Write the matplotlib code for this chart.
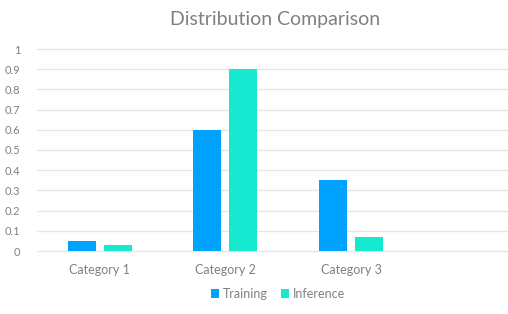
import matplotlib
matplotlib.use("Agg")
import matplotlib.pyplot as plt
import numpy as np

categories = ["Category 1", "Category 2", "Category 3"]
training = [0.05, 0.6, 0.35]
inference = [0.03, 0.9, 0.07]
yticks = [0, 0.1, 0.2, 0.3, 0.4, 0.5, 0.6, 0.7, 0.8, 0.9, 1]
ytick_labels = ["0", "0.1", "0.2", "0.3", "0.4", "0.5", "0.6", "0.7", "0.8", "0.9", "1"]

plt.rcParams['font.family'] = ['Lato', 'DejaVu Sans']
gray = "#808080"

fig = plt.figure(figsize=(5.08, 3.14), dpi=100)
ax = fig.add_axes([37/508, (314-251)/314, 1 - 37/508, (251-49)/314])

x = np.arange(1, len(categories) + 1)
w = 0.223
off = 0.143
ax.bar(x - off, training, w, color="#00A2FF", label="Training", zorder=3)
ax.bar(x + off, inference, w, color="#17E8D0", label="Inference", zorder=3)

ax.set_xlim(0.5, 4.25)
ax.set_ylim(0, 1.0)
ax.set_yticks(yticks)
ax.set_yticklabels(ytick_labels)
ax.set_xticks(x)
ax.set_xticklabels(categories)
for s in ax.spines.values():
    s.set_visible(False)
ax.tick_params(axis='y', length=0, pad=12, labelsize=8, labelcolor=gray)
ax.tick_params(axis='x', length=0, pad=9, labelsize=9, labelcolor=gray)
ax.grid(axis='y', color="#e6e6e6", linewidth=1, zorder=0)
for gl in ax.get_ygridlines():
    gl.set_clip_on(False)
ax.set_axisbelow(True)

fig.text(275/508, 1 - 20/314, "Distribution Comparison", ha='center', va='center',
         fontsize=14, color=gray)

fig.legend(loc='center', bbox_to_anchor=(278/508, 1 - 294/314), ncol=2, frameon=False,
           fontsize=9, labelcolor=gray, handlelength=0.7, handleheight=0.7,
           handletextpad=0.3, columnspacing=1.0)

fig.savefig("out.png", dpi=100)
